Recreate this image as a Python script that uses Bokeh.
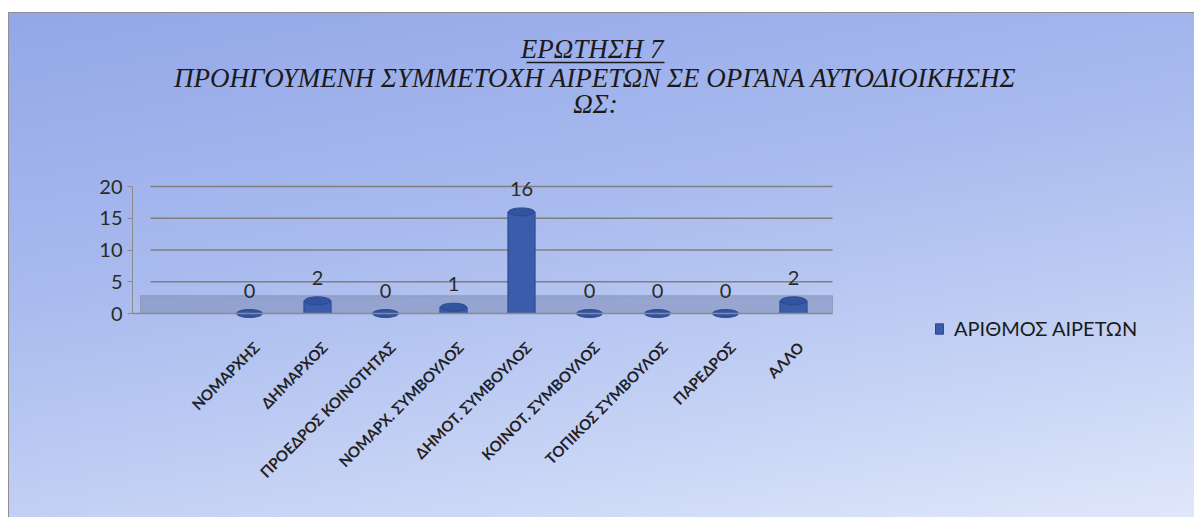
import math
from bokeh.plotting import figure
from bokeh.models import (ColumnDataSource, FixedTicker, Legend, LegendItem,
                          BoxAnnotation, Label)
from bokeh.core.properties import value
from bokeh.embed import file_html
from bokeh.resources import INLINE

categories = ["ΝΟΜΑΡΧΗΣ", "ΔΗΜΑΡΧΟΣ", "ΠΡΟΕΔΡΟΣ ΚΟΙΝΟΤΗΤΑΣ", "ΝΟΜΑΡΧ. ΣΥΜΒΟΥΛΟΣ",
              "ΔΗΜΟΤ. ΣΥΜΒΟΥΛΟΣ", "ΚΟΙΝΟΤ. ΣΥΜΒΟΥΛΟΣ", "ΤΟΠΙΚΟΣ ΣΥΜΒΟΥΛΟΣ",
              "ΠΑΡΕΔΡΟΣ", "ΑΛΛΟ"]
counts = [0, 2, 0, 1, 16, 0, 0, 0, 2]
y_ticks = [0, 5, 10, 15, 20]
series_name = "ΑΡΙΘΜΟΣ ΑΙΡΕΤΩΝ"
title_lines = ["ΕΡΩΤΗΣΗ  7",
               "ΠΡΟΗΓΟΥΜΕΝΗ ΣΥΜΜΕΤΟΧΗ ΑΙΡΕΤΩΝ ΣΕ ΟΡΓΑΝΑ ΑΥΤΟΔΙΟΙΚΗΣΗΣ",
               "ΩΣ:"]

positions = list(range(len(categories)))
src = ColumnDataSource(dict(x=positions, top=counts,
                            label=[str(c) for c in counts]))
cat_src = ColumnDataSource(dict(x=positions, y=[0] * len(positions), name=categories))

# figure placed at page (8, 12); layout geometry (page pixels)
W, H = 1186, 505
B_LEFT, B_RIGHT, B_TOP, B_BOTTOM = 124, 0, 10, 25
FL, FR = 8 + B_LEFT, 8 + W - B_RIGHT          # frame left/right (page)
FT, FB = 12 + B_TOP, 12 + H - B_BOTTOM        # frame top/bottom (page)
PX_X = 68.0                                    # pixels per category
PX_Y = 6.35                                    # pixels per unit
ZERO_Y = 313                                   # page y of value 0
FIRST_X = 249                                  # page x of first category
X0 = -(FIRST_X - FL) / PX_X
X1 = X0 + (FR - FL) / PX_X
Y0 = -(FB - ZERO_Y) / PX_Y
Y1 = (ZERO_Y - FT) / PX_Y
LEGEND_LEFT, LEGEND_BOTTOM = 934, 340          # page px


def dx(page_x):
    return X0 + (page_x - FL) / PX_X


def dy(page_y):
    return (ZERO_Y - page_y) / PX_Y


p = figure(width=W, height=H, output_backend="svg", toolbar_location=None,
           x_range=(X0, X1), y_range=(Y0, Y1),
           min_border_left=B_LEFT, min_border_right=B_RIGHT,
           min_border_top=B_TOP, min_border_bottom=B_BOTTOM)
p.border_fill_color = None
p.background_fill_color = None
p.outline_line_color = None
p.styles = {"background": "linear-gradient(170deg, #93A7E8 0%, #A8BAEE 40%, #C6D3F5 75%, #DFE7FA 100%)",
            "box-shadow": "inset 1px 1px 0 0 #8f8f8f",
            "margin-left": "8px", "margin-top": "12px"}

# title lines
title_y = [48, 77, 103]
for txt, ty in zip(title_lines, title_y):
    p.add_layout(Label(x=dx(595), y=dy(ty), text=txt, text_align="center",
                       text_baseline="middle", text_font="Liberation Serif",
                       text_font_style="italic", text_font_size="27px",
                       text_color="#1a1a1a"))
p.line(x=[dx(526), dx(664)], y=[dy(62), dy(62)], line_color="#1a1a1a", line_width=1.5)

plot_right = dx(832)

# floor band
p.add_layout(BoxAnnotation(bottom=0, top=2.8, left=dx(140), right=plot_right,
                           fill_color="#8190BA", fill_alpha=0.6,
                           line_color="#8a8a9a", line_alpha=0.6, level="underlay"))

# horizontal gridlines from the tick values
grid_ticks = y_ticks[1:]
p.segment(x0=[dx(150)] * len(grid_ticks), x1=[plot_right] * len(grid_ticks),
          y0=grid_ticks, y1=grid_ticks, line_color="#7f7f7f", line_width=1.5,
          level="underlay")

bars = p.vbar(x="x", top="top", width=0.4, source=src, fill_color="#3A5CAA",
              line_color="#2B4A90", line_width=1)
p.ellipse(x="x", y="top", width=26, height=8, width_units="screen",
          height_units="screen", source=src, fill_color="#33539F", line_color="#2B4A90")

p.text(x="x", y="top", text="label", source=src, text_align="center",
       text_baseline="bottom", y_offset=-16, text_font=value("Lato"),
       text_font_size="20px", text_color="#2a2a2a")

# rotated category labels under the axis
p.text(x="x", y="y", text="name", source=cat_src, angle=math.pi / 4,
       text_align="right", text_baseline="middle", x_offset=7, y_offset=31,
       text_font=value("Lato"), text_font_style="bold", text_font_size="15px",
       text_color="#222222")

# axes
p.yaxis.ticker = FixedTicker(ticks=y_ticks)
p.yaxis.bounds = (0, 20)
p.yaxis.major_label_text_font = "Lato"
p.yaxis.major_label_text_font_size = "20px"
p.yaxis.major_label_text_color = "#2a2a2a"
p.yaxis.axis_line_color = "#8a8a8a"
p.yaxis.major_tick_line_color = "#8a8a8a"
p.yaxis.major_tick_out = 5
p.yaxis.major_tick_in = 0
p.yaxis.minor_tick_line_color = None

p.xaxis.fixed_location = 0
p.xaxis.bounds = (X0, plot_right)
p.xaxis.ticker = FixedTicker(ticks=[])
p.xaxis.axis_line_color = "#8a8a8a"
p.xaxis.axis_line_width = 1.5
p.xaxis.major_tick_line_color = None
p.xaxis.minor_tick_line_color = None

p.xgrid.grid_line_color = None
p.ygrid.grid_line_color = None

legend = Legend(items=[LegendItem(label=series_name, renderers=[bars])],
                location=(LEGEND_LEFT - FL, FB - LEGEND_BOTTOM), padding=4,
                background_fill_alpha=0, border_line_color=None,
                label_text_font="Lato", label_text_font_size="20px",
                label_text_color="#1a1a1a", label_standoff=10,
                glyph_width=10, glyph_height=13)
p.add_layout(legend)

open("out.html", "w").write(file_html(p, INLINE))
